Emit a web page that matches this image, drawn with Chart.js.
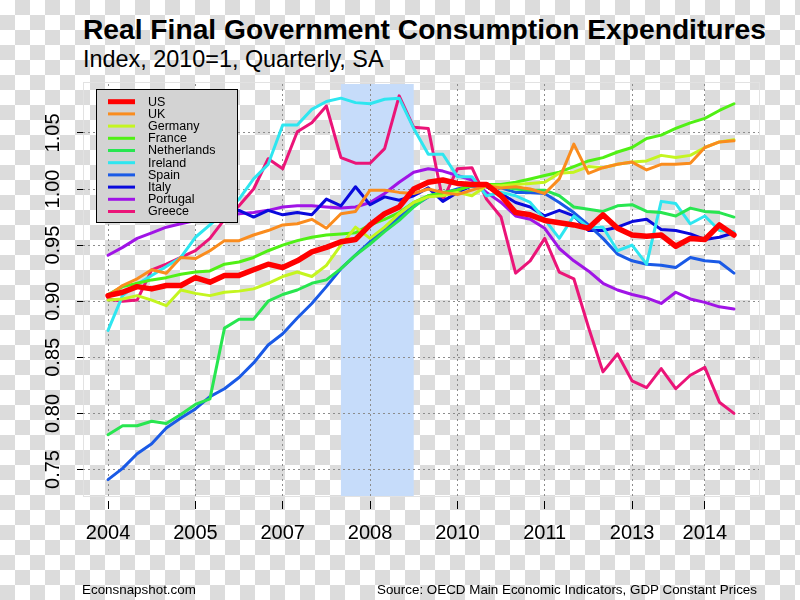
<!DOCTYPE html>
<html>
<head>
<meta charset="utf-8">
<script src="https://cdn.jsdelivr.net/npm/chart.js@4.4.1/dist/chart.umd.min.js"></script>
<style>
  body { margin: 0; }
  #wrap {
    position: relative; width: 800px; height: 600px; overflow: hidden;
    background: repeating-conic-gradient(#dcdcdc 0 25%, #ffffff 0 50%) 0 0 / 30px 30px;
    font-family: "Liberation Sans", Arial, Helvetica, sans-serif; color: #000;
  }
  canvas { position: absolute; left: 0; top: 0; }
  .txt { position: absolute; white-space: nowrap; line-height: 1; }
  #title { left: 83px; top: 15px; font-size: 28.2px; font-weight: bold; }
  #subtitle { left: 83px; top: 48px; font-size: 23.4px; }
  #site { left: 82px; top: 583px; font-size: 13.4px; }
  #source { right: 43px; top: 583px; font-size: 13.4px; }
</style>
</head>
<body>
<div id="wrap">
  <div class="txt" id="title">Real Final Government Consumption Expenditures</div>
  <div class="txt" id="subtitle">Index, 2010=1, Quarterly, SA</div>
  <canvas id="chart" width="800" height="600"></canvas>
  <div class="txt" id="site">Econsnapshot.com</div>
  <div class="txt" id="source">Source: OECD Main Economic Indicators, GDP Constant Prices</div>
</div>
<script>
// quarters 2004 Q1 .. 2014 Q4
const quarters = [];
for (let y = 2004; y <= 2014; y++) for (let q = 1; q <= 4; q++) quarters.push(y + ' Q' + q);

const tickQuarters = ['2004 Q1', '2005 Q3', '2007 Q1', '2008 Q3', '2010 Q1', '2011 Q3', '2013 Q1', '2014 Q2'];
const tickLabels = ['2004', '2005', '2007', '2008', '2010', '2011', '2013', '2014'];
const yTicks = [0.75, 0.80, 0.85, 0.90, 0.95, 1.00, 1.05];
const recession = ['2008 Q1', '2009 Q2'];

const countries = ['US', 'UK', 'Germany', 'France', 'Netherlands', 'Ireland', 'Spain', 'Italy', 'Portugal', 'Greece'];
const colors = ['#ff0000', '#fa8c1e', '#c4f520', '#50f014', '#28e650', '#2ee6f0', '#1a5ae6', '#0a0adc', '#a014e6', '#eb1478'];

const us = [0.905, 0.908, 0.913, 0.911, 0.914, 0.914, 0.921, 0.917, 0.923, 0.923, 0.928, 0.933, 0.930, 0.936, 0.944, 0.948, 0.953, 0.955, 0.968, 0.978, 0.984, 1.000, 1.006, 1.008, 1.005, 1.004, 1.004, 0.994, 0.979, 0.977, 0.972, 0.970, 0.968, 0.965, 0.977, 0.965, 0.959, 0.958, 0.959, 0.949, 0.956, 0.955, 0.968, 0.959];
const uk = [0.905, 0.914, 0.920, 0.928, 0.925, 0.939, 0.938, 0.945, 0.954, 0.954, 0.959, 0.963, 0.968, 0.969, 0.973, 0.965, 0.978, 0.980, 0.999, 0.999, 0.997, 0.996, 1.000, 0.997, 0.995, 0.999, 1.003, 1.001, 1.002, 1.000, 0.996, 1.009, 1.040, 1.014, 1.019, 1.022, 1.024, 1.017, 1.022, 1.022, 1.023, 1.037, 1.042, 1.043];
const germany = [0.901, 0.902, 0.905, 0.901, 0.896, 0.910, 0.907, 0.905, 0.908, 0.909, 0.911, 0.916, 0.922, 0.926, 0.922, 0.932, 0.950, 0.966, 0.956, 0.966, 0.978, 0.988, 0.993, 0.994, 0.997, 0.994, 1.003, 1.003, 1.004, 1.005, 1.006, 1.014, 1.015, 1.020, 1.019, 1.022, 1.024, 1.025, 1.030, 1.028, 1.030, 1.037, 1.042, 1.044];
const france = [0.906, 0.913, 0.916, 0.919, 0.921, 0.924, 0.926, 0.927, 0.933, 0.935, 0.939, 0.945, 0.950, 0.954, 0.957, 0.959, 0.960, 0.961, 0.968, 0.973, 0.979, 0.988, 0.994, 0.996, 0.999, 1.003, 1.004, 1.004, 1.006, 1.009, 1.012, 1.015, 1.020, 1.025, 1.028, 1.033, 1.037, 1.045, 1.048, 1.054, 1.059, 1.063, 1.070, 1.076];
const netherlands = [0.781, 0.789, 0.789, 0.793, 0.791, 0.799, 0.808, 0.813, 0.876, 0.884, 0.884, 0.900, 0.906, 0.910, 0.916, 0.919, 0.929, 0.941, 0.951, 0.962, 0.972, 0.984, 0.994, 0.997, 0.999, 1.003, 1.004, 1.002, 1.000, 0.999, 0.999, 0.994, 0.984, 0.982, 0.980, 0.985, 0.986, 0.980, 0.979, 0.976, 0.983, 0.980, 0.979, 0.975];
const ireland = [0.874, 0.905, 0.915, 0.923, 0.931, 0.939, 0.957, 0.968, 0.979, 0.991, 1.009, 1.022, 1.057, 1.057, 1.071, 1.078, 1.081, 1.077, 1.076, 1.080, 1.081, 1.054, 1.031, 1.031, 1.011, 1.011, 0.994, 0.997, 0.994, 0.988, 0.973, 0.956, 0.976, 0.966, 0.966, 0.945, 0.950, 0.933, 0.989, 0.987, 0.969, 0.976, 0.963, 0.962];
const spain = [0.741, 0.751, 0.764, 0.773, 0.787, 0.796, 0.804, 0.815, 0.822, 0.832, 0.845, 0.861, 0.871, 0.885, 0.898, 0.913, 0.929, 0.941, 0.953, 0.964, 0.975, 0.985, 0.993, 0.996, 1.000, 1.003, 1.003, 1.001, 0.997, 0.997, 0.996, 0.988, 0.979, 0.968, 0.956, 0.942, 0.936, 0.933, 0.932, 0.930, 0.939, 0.936, 0.935, 0.925];
const italy = [0.976, 0.978, 0.979, 0.981, 0.980, 0.982, 0.983, 0.984, 0.980, 0.981, 0.975, 0.981, 0.977, 0.979, 0.977, 0.991, 0.985, 1.002, 0.986, 0.993, 0.990, 0.994, 1.001, 0.989, 0.997, 1.003, 1.002, 0.996, 0.988, 0.984, 0.976, 0.981, 0.976, 0.963, 0.963, 0.966, 0.971, 0.973, 0.964, 0.963, 0.960, 0.955, 0.957, 0.961];
const portugal = [0.941, 0.948, 0.956, 0.961, 0.966, 0.969, 0.972, 0.975, 0.976, 0.978, 0.979, 0.981, 0.984, 0.985, 0.985, 0.984, 0.983, 0.984, 0.988, 0.996, 1.006, 1.015, 1.018, 1.016, 1.012, 1.008, 0.997, 0.988, 0.976, 0.973, 0.965, 0.947, 0.936, 0.927, 0.916, 0.910, 0.906, 0.903, 0.898, 0.908, 0.902, 0.899, 0.895, 0.893];
const greece = [0.902, 0.900, 0.901, 0.928, 0.933, 0.939, 0.945, 0.956, 0.973, 0.985, 1.000, 1.027, 1.018, 1.051, 1.059, 1.074, 1.028, 1.023, 1.023, 1.036, 1.083, 1.055, 1.054, 0.990, 1.018, 1.019, 0.991, 0.975, 0.925, 0.936, 0.956, 0.926, 0.920, 0.877, 0.837, 0.853, 0.829, 0.823, 0.840, 0.822, 0.834, 0.841, 0.810, 0.800];

const series = [us, uk, germany, france, netherlands, ireland, spain, italy, portugal, greece];
const FONT = '"Liberation Sans", Arial, Helvetica, sans-serif';

const datasets = series.map((vals, k) => ({
  label: countries[k],
  data: vals.map((v, i) => ({ x: i, y: v })),
  borderColor: colors[k],
  borderWidth: k === 0 ? 5.5 : 3,
  borderJoinStyle: 'round',
  borderCapStyle: 'round',
  pointRadius: 0,
  tension: 0,
  fill: false
}));

// shaded recession, plot frame and the boxed legend
const decor = {
  id: 'decor',
  beforeDraw(chart) {
    const { ctx, chartArea: a, scales: { x } } = chart;
    const x0 = x.getPixelForValue(quarters.indexOf(recession[0]));
    const x1 = x.getPixelForValue(quarters.indexOf(recession[1]));
    ctx.save();
    ctx.fillStyle = '#c6dcfa';
    ctx.fillRect(x0, a.top, x1 - x0, a.bottom - a.top);
    ctx.strokeStyle = '#e2e2e2';
    ctx.lineWidth = 1;
    ctx.strokeRect(a.left + 0.5, a.top - 1.5, a.right - a.left, a.bottom - a.top + 2);
    ctx.restore();
  },
  afterDatasetsDraw(chart) {
    const ctx = chart.ctx;
    const bx = 96, by = 89, bw = 141, bh = 133;
    ctx.save();
    ctx.fillStyle = '#d3d3d3';
    ctx.fillRect(bx, by, bw, bh);
    ctx.strokeStyle = '#000';
    ctx.lineWidth = 1;
    ctx.strokeRect(bx + 0.5, by + 0.5, bw, bh);
    ctx.font = '12.5px ' + FONT;
    ctx.textBaseline = 'middle';
    chart.data.datasets.forEach((ds, k) => {
      const yy = 101.7 + k * 12.2;
      ctx.strokeStyle = ds.borderColor;
      ctx.lineWidth = k === 0 ? 5 : 3;
      ctx.beginPath();
      ctx.moveTo(108, yy);
      ctx.lineTo(135, yy);
      ctx.stroke();
      ctx.fillStyle = '#000';
      ctx.fillText(ds.label, 148, yy + 0.5);
    });
    ctx.restore();
  }
};

new Chart(document.getElementById('chart'), {
  type: 'line',
  data: { datasets: datasets },
  options: {
    responsive: false,
    animation: false,
    layout: { padding: { left: 0, right: 41, top: 84, bottom: 40 } },
    plugins: { legend: { display: false }, tooltip: { enabled: false } },
    scales: {
      x: {
        type: 'linear',
        min: -1.72,
        max: 44.72,
        afterBuildTicks: (scale) => { scale.ticks = tickQuarters.map(q => ({ value: quarters.indexOf(q) })); },
        afterFit: (scale) => { scale.height = 64; },
        ticks: {
          autoSkip: false,
          maxRotation: 0,
          padding: 12,
          color: '#000',
          font: { family: FONT, size: 20 },
          callback: (v) => tickLabels[tickQuarters.indexOf(quarters[v])]
        },
        grid: {
          color: '#8c8c8c',
          lineWidth: 1,
          tickLength: 13,
          tickColor: '#000',
          tickBorderDash: [0, 5, 8, 100]
        },
        border: { display: false, dash: [2, 3] }
      },
      y: {
        min: 0.7264,
        max: 1.0936,
        afterBuildTicks: (scale) => { scale.ticks = yTicks.map(v => ({ value: v })); },
        afterFit: (scale) => { scale.width = 83; },
        ticks: {
          minRotation: 90,
          maxRotation: 90,
          crossAlign: 'center',
          padding: 3,
          color: '#000',
          font: { family: FONT, size: 20 },
          callback: (v) => v.toFixed(2)
        },
        grid: {
          color: '#8c8c8c',
          lineWidth: 1,
          tickLength: 7,
          tickColor: '#000',
          tickBorderDash: [0, 1, 6, 100]
        },
        border: { display: false, dash: [2, 3] }
      }
    }
  },
  plugins: [decor]
});
</script>
</body>
</html>
